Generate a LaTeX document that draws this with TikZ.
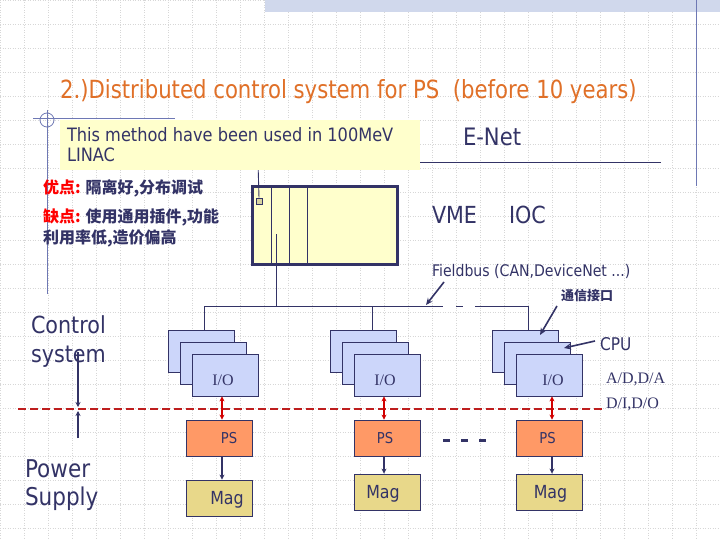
\documentclass[tikz,border=0pt]{standalone}
\usepackage{fontspec}
\setmainfont{DejaVu Sans}[FakeStretch=0.88]
\newfontfamily\serifx{Liberation Serif}
\newfontfamily\cjk{Noto Sans CJK SC}
\usetikzlibrary{arrows.meta,calc}
\definecolor{navy}{RGB}{51,51,102}
\definecolor{titleorange}{RGB}{224,112,40}
\definecolor{noteyellow}{RGB}{255,255,204}
\definecolor{iofill}{RGB}{204,214,250}
\definecolor{psfill}{RGB}{255,153,102}
\definecolor{magfill}{RGB}{232,216,138}
\definecolor{redline}{RGB}{190,30,30}
\definecolor{redarrow}{RGB}{210,0,0}
\definecolor{sqfill}{RGB}{216,212,160}
\definecolor{bandfill}{RGB}{208,216,236}
\definecolor{gridc}{RGB}{215,215,215}
\definecolor{decoline}{RGB}{110,120,180}
\tikzset{
  txt/.style={inner sep=0,outer sep=0,text=navy},
  iobox/.style={draw=navy,fill=iofill,line width=0.8pt,minimum width=66pt,minimum height=42pt,inner sep=0},
  psbox/.style={draw=navy,fill=psfill,line width=0.8pt,minimum width=66pt,minimum height=36pt,inner sep=0,text=navy},
  magbox/.style={draw=navy,fill=magfill,line width=0.8pt,minimum width=66pt,minimum height=36pt,inner sep=0,text=navy},
  wire/.style={draw=navy,line width=0.9pt},
  navyarrow/.style={draw=navy,line width=1.6pt,-{Stealth[length=7pt,width=6pt]}},
  redarr/.style={draw=redarrow,line width=1.6pt,{Stealth[length=5pt,width=5pt]}-{Stealth[length=5pt,width=5pt]}},
  flowarr/.style={draw=navy,line width=1.6pt,-{Stealth[length=5pt,width=5pt]}},
  divider/.style={draw=redline,line width=1.3pt,dash pattern=on 8pt off 4pt},
}
\begin{document}
\begin{tikzpicture}[x=1pt,y=-1pt]
\useasboundingbox (0,0) rectangle (720,540);
\fill[white] (0,0) rectangle (720,540);
% background grid
\foreach \i in {0,24,...,720} {\draw[gridc,dotted,line width=0.5pt] (\i,0) -- (\i,540);}
\foreach \j in {0,24,...,540} {\draw[gridc,dotted,line width=0.5pt] (0,\j) -- (720,\j);}
% top band and decoration
\fill[bandfill] (265,0) rectangle (720,12);
\draw[decoline,line width=0.8pt] (696,0) -- (696,186);
\draw[decoline,line width=0.8pt] (33,118) -- (175,118);
\draw[decoline,line width=0.8pt] (47,110) -- (47,294);
\draw[decoline,line width=0.8pt] (47,120) circle (7);

% title
\node[txt,text=titleorange,anchor=base west,font=\fontsize{25}{30}\selectfont] (title) at (60,99) {\scalebox{0.965}[1]{2.)Distributed control system for PS\ \ (before 10 years)}};

% E-Net line and VME
\coordinate (enetL) at (258,162);
\coordinate (enetR) at (661,162);
\draw[wire] (enetL) -- (enetR);
\node[draw=navy,fill=noteyellow,line width=3pt,minimum width=145pt,minimum height=77pt,inner sep=0] (vme) at (324.5,225.5) {};
\draw[wire] (271,188.5) -- (271,262.5);
\draw[wire] (289,188.5) -- (289,262.5);
\draw[wire] (307,188.5) -- (307,262.5);
\node[draw=navy,fill=sqfill,line width=0.6pt,minimum size=6pt,inner sep=0] (sq) at (259,201) {};
\draw[wire] (enetL) -- (sq.north);

% note box
\node[fill=noteyellow,minimum width=360pt,minimum height=50pt,anchor=north west,inner sep=0] (note) at (60,120) {};
\node[txt,anchor=base west,font=\fontsize{18.4}{20}\selectfont] (note1) at (67,142) {This method have been used in 100MeV};
\node[txt,anchor=base west,font=\fontsize{18.4}{20}\selectfont] (note2) at (67,162) {LINAC};

\node[txt,anchor=base west,font=\fontsize{24}{26}\selectfont] (enet) at (463,146) {E-Net};
\node[txt,anchor=base west,font=\fontsize{23.5}{26}\selectfont] (vmet) at (432,224) {VME};
\node[txt,anchor=base west,font=\fontsize{23.5}{26}\selectfont] (ioct) at (509,224) {IOC};

% Chinese pros/cons
\node[txt,anchor=west,font=\fontsize{16}{18}\selectfont\cjk\bfseries] (pro) at (43,188) {\textcolor{red}{优点:} 隔离好,分布调试};
\node[txt,anchor=west,font=\fontsize{16}{18}\selectfont\cjk\bfseries] (con1) at (43,217) {\textcolor{red}{缺点:} 使用通用插件,功能};
\node[txt,anchor=west,font=\fontsize{16}{18}\selectfont\cjk\bfseries] (con2) at (43,238) {利用率低,造价偏高};

% Fieldbus
\node[txt,anchor=base west,font=\fontsize{16}{18}\selectfont] (fbt) at (432,276) {Fieldbus (CAN,DeviceNet ...)};
\node[txt,anchor=center,font=\fontsize{13}{16}\selectfont\cjk\bfseries] (comm) at (587,296) {通信接口};
\node[txt,anchor=base west,font=\fontsize{17.5}{20}\selectfont] (cpu) at (600,350) {CPU};
\node[txt,anchor=west,font=\fontsize{16}{18}\selectfont\serifx] (adda) at (606,379) {A/D,D/A};
\node[txt,anchor=west,font=\fontsize{16}{18}\selectfont\serifx] (dido) at (606,404) {D/I,D/O};

% stacks
\node[iobox] (A1) at (201,351) {};
\node[iobox] (B1) at (213,363) {};
\node[iobox] (C1) at (225,375) {};
\node[iobox] (A2) at (363.5,351) {};
\node[iobox] (B2) at (375.5,363) {};
\node[iobox] (C2) at (387.5,375) {};
\node[iobox] (A3) at (525,351) {};
\node[iobox] (B3) at (537,363) {};
\node[iobox] (C3) at (549.5,375) {};
\node[txt,font=\fontsize{16}{18}\selectfont\serifx] (io1) at (223,380) {I/O};
\node[txt,font=\fontsize{16}{18}\selectfont\serifx] (io2) at (385,380) {I/O};
\node[txt,font=\fontsize{16}{18}\selectfont\serifx] (io3) at (553,380) {I/O};

% fieldbus line
\coordinate (fbL) at (204,306);
\coordinate (fb2) at (372,306);
\coordinate (fbR) at (528,306);
\coordinate (vmeb) at (276,306);
\draw[wire] (fbL) -- (443,306);
\draw[wire] (456,306) -- (463,306);
\draw[wire] (475,306) -- (fbR) -- (fbR |- A3.north);
\draw[wire] (fbL) -- (fbL |- A1.north);
\draw[wire] (fb2) -- (fb2 |- A2.north);
\draw[wire] (276,234) -- (vmeb);

% pointer arrows
\coordinate (fbp) at (444,282);
\coordinate (fbtip) at (426,305);
\draw[navyarrow] (fbp) -- (fbtip);
\coordinate (cmp) at (557,306);
\coordinate (cmtip) at (540,335);
\draw[navyarrow] (cmp) -- (cmtip);
\coordinate (cpp) at (595,341);
\coordinate (cptip) at (564,348);
\draw[navyarrow] (cpp) -- (cptip);

% red dashed divider
\coordinate (divL) at (18,409);
\coordinate (divR) at (603,409);
\draw[divider] (divL) -- (divR);

% PS and Mag boxes
\node[psbox,label={[txt,xshift=10pt,font=\fontsize{15}{18}\selectfont]center:PS}] (PS1) at (219,438) {};
\node[psbox,label={[txt,xshift=-2pt,font=\fontsize{15}{18}\selectfont]center:PS}] (PS2) at (387,438) {};
\node[psbox,label={[txt,xshift=-2pt,font=\fontsize{15}{18}\selectfont]center:PS}] (PS3) at (549.5,438) {};
\node[magbox,label={[txt,xshift=8pt,yshift=-2pt,font=\fontsize{18}{20}\selectfont]center:Mag}] (M1) at (219,498) {};
\node[magbox,label={[txt,xshift=-4pt,yshift=-2pt,font=\fontsize{18}{20}\selectfont]center:Mag}] (M2) at (387,492) {};
\node[magbox,label={[txt,xshift=1pt,yshift=-2pt,font=\fontsize{18}{20}\selectfont]center:Mag}] (M3) at (549.5,492) {};

% red double arrows
\draw[redarr] ([xshift=3pt]PS1.north |- C1.south) -- ([xshift=3pt]PS1.north);
\draw[redarr] ([xshift=-3pt]PS2.north |- C2.south) -- ([xshift=-3pt]PS2.north);
\draw[redarr] ([xshift=2.5pt]PS3.north |- C3.south) -- ([xshift=2.5pt]PS3.north);
% PS to Mag
\draw[flowarr] ([xshift=3pt]PS1.south) -- ([xshift=3pt]M1.north);
\draw[flowarr] ([xshift=-3pt]PS2.south) -- ([xshift=-3pt]M2.north);
\draw[flowarr] ([xshift=2.5pt]PS3.south) -- ([xshift=2.5pt]M3.north);

% dots between
\draw[navy,line width=3pt,dash pattern=on 7pt off 11pt] (443,440) -- (487,440);

% left labels
\node[txt,anchor=base west,font=\fontsize{23.5}{26}\selectfont] (ctl1) at (31,333) {Control};
\node[txt,anchor=base west,font=\fontsize{23.5}{26}\selectfont] (ctl2) at (31,362) {system};
\node[txt,anchor=base west,font=\fontsize{24.5}{26}\selectfont] (pw1) at (25,477) {Power};
\node[txt,anchor=base west,font=\fontsize{24.5}{26}\selectfont] (pw2) at (25,505) {Supply};
\coordinate (cs1) at (78,352);
\coordinate (cs2) at (78,407);
\coordinate (cs3) at (78,438);
\coordinate (cs4) at (78,411);
\draw[flowarr] (cs1) -- (cs2);
\draw[flowarr] (cs3) -- (cs4);
\end{tikzpicture}
\end{document}
